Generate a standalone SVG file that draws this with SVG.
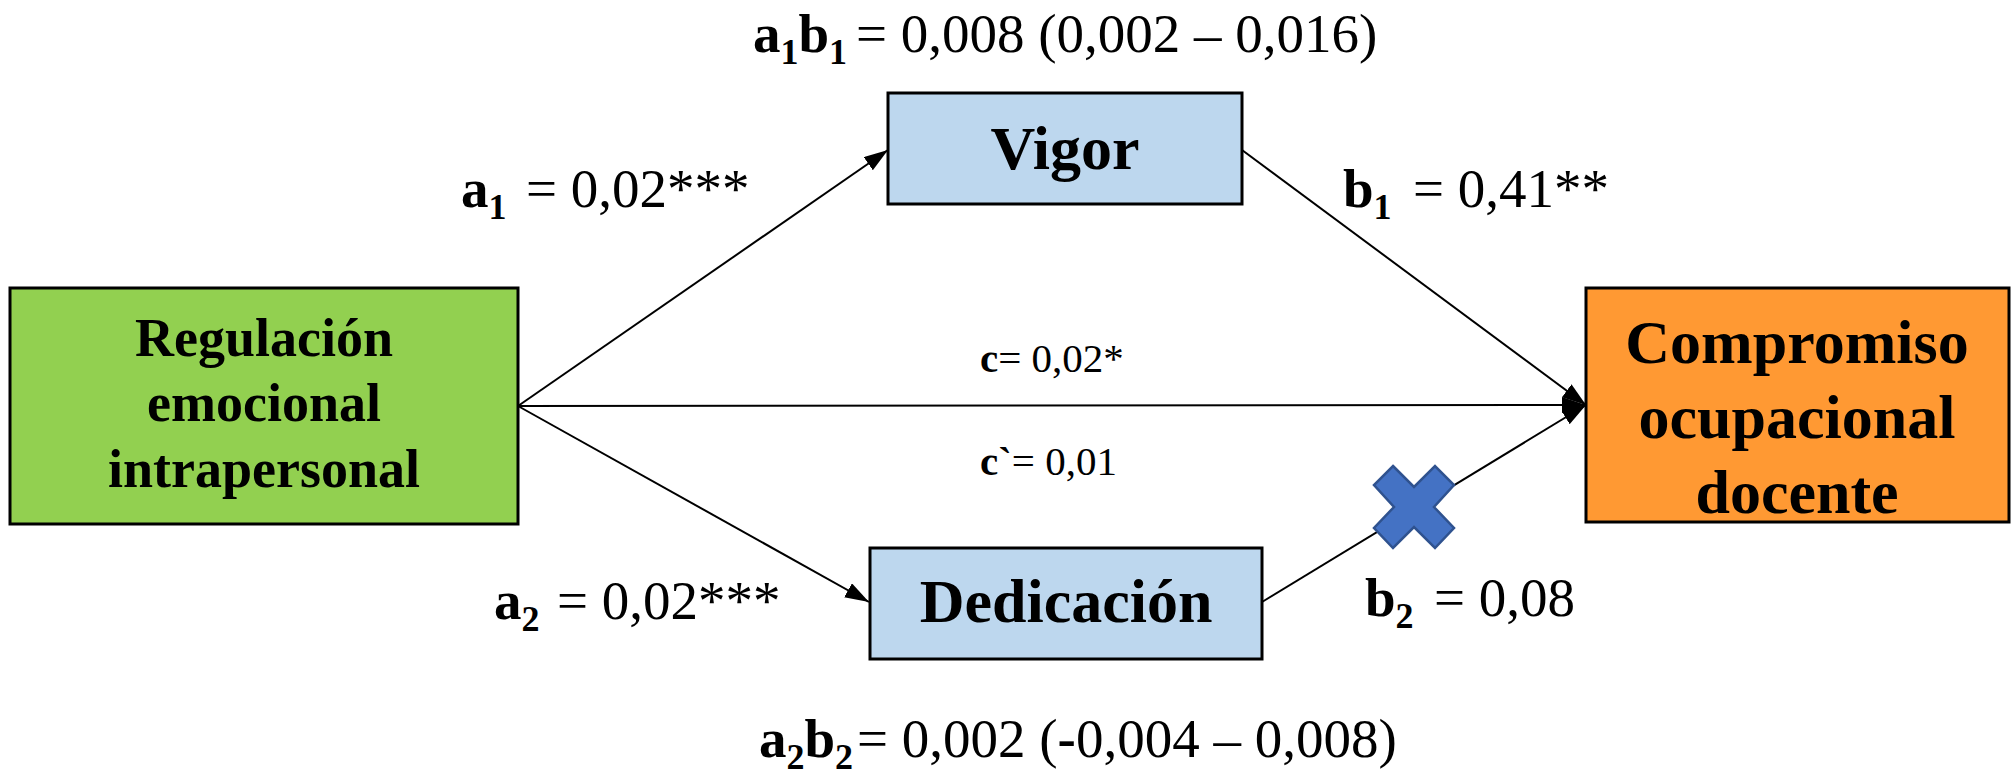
<svg xmlns="http://www.w3.org/2000/svg" width="2011" height="775" viewBox="0 0 2011 775">
<style>
.box{stroke:#000;stroke-width:3}
.nt{font-family:"Liberation Serif","Times New Roman",serif;font-weight:bold;text-anchor:middle;fill:#000}
.lb{font-family:"Liberation Serif","Times New Roman",serif;fill:#000;font-size:55px}
.b{font-weight:bold}
.sub{font-weight:bold;font-size:36px}
.con{stroke:#000;stroke-width:2;fill:none}
</style>
<defs>
<marker id="ah" markerUnits="userSpaceOnUse" markerWidth="26" markerHeight="18" refX="24" refY="8" orient="auto">
<path d="M0,0 L24,8 L0,16 z" fill="#000"/>
</marker>
</defs>
<rect width="2011" height="775" fill="#fff"/>
<g id="connectors">
<line class="con" x1="518" y1="406" x2="888" y2="150" marker-end="url(#ah)"/>
<line class="con" x1="518" y1="406" x2="869" y2="602" marker-end="url(#ah)"/>
<line class="con" x1="518" y1="406" x2="1586" y2="405" marker-end="url(#ah)"/>
<line class="con" x1="1242" y1="150" x2="1586" y2="405" marker-end="url(#ah)"/>
<line class="con" x1="1262" y1="602" x2="1586" y2="405" marker-end="url(#ah)"/>
</g>
<g id="node-regulacion">
<rect class="box" x="10" y="288" width="508" height="236" fill="#92D050"/>
<text class="nt" font-size="54" x="264" y="356">Regulación</text>
<text class="nt" font-size="54" x="264" y="421">emocional</text>
<text class="nt" font-size="54" x="264" y="487">intrapersonal</text>
</g>
<g id="node-vigor">
<rect class="box" x="888" y="93" width="354" height="111" fill="#BDD7EE"/>
<text class="nt" font-size="62" x="1065" y="169">Vigor</text>
</g>
<g id="node-dedicacion">
<rect class="box" x="870" y="548" width="392" height="111" fill="#BDD7EE"/>
<text class="nt" font-size="62" x="1066" y="622">Dedicación</text>
</g>
<g id="node-compromiso">
<rect class="box" x="1586" y="288" width="423" height="234" fill="#FF9933"/>
<text class="nt" font-size="62" x="1797" y="363">Compromiso</text>
<text class="nt" font-size="62" x="1797" y="438">ocupacional</text>
<text class="nt" font-size="62" x="1797" y="513">docente</text>
</g>
<g id="cross">
<polygon points="1393,466 1414,487 1435,466 1454,485 1434,507 1454,528 1435,548 1414,527 1393,548 1374,528 1394,507 1374,485" fill="#4472C4" stroke="#2F528F" stroke-width="2.5" stroke-linejoin="miter"/>
</g>
<g id="labels">
<text class="lb" x="753" y="52"><tspan class="b">a</tspan><tspan class="sub" dy="12">1</tspan><tspan class="b" dy="-12">b</tspan><tspan class="sub" dy="12">1</tspan><tspan x="856" y="52">= 0,008 (0,002 – 0,016)</tspan></text>
<text class="lb" x="461" y="207"><tspan class="b">a</tspan><tspan class="sub" dy="12">1</tspan><tspan x="526" y="207">= 0,02***</tspan></text>
<text class="lb" x="1343" y="207"><tspan class="b">b</tspan><tspan class="sub" dy="12">1</tspan><tspan x="1413" y="207">= 0,41**</tspan></text>
<text class="lb" x="494" y="619"><tspan class="b">a</tspan><tspan class="sub" dy="12">2</tspan><tspan x="557" y="619">= 0,02***</tspan></text>
<text class="lb" x="1365" y="616"><tspan class="b">b</tspan><tspan class="sub" dy="12">2</tspan><tspan x="1434" y="616">= 0,08</tspan></text>
<text class="lb" x="980" y="372" style="font-size:41px"><tspan class="b">c</tspan>= 0,02*</text>
<text class="lb" x="980" y="475" style="font-size:41px"><tspan class="b">c`</tspan>= 0,01</text>
<text class="lb" x="759" y="757"><tspan class="b">a</tspan><tspan class="sub" dy="12">2</tspan><tspan class="b" dy="-12">b</tspan><tspan class="sub" dy="12">2</tspan><tspan x="857" y="757">= 0,002 (<tspan class="b">-</tspan>0,004 – 0,008)</tspan></text>
</g>
</svg>
